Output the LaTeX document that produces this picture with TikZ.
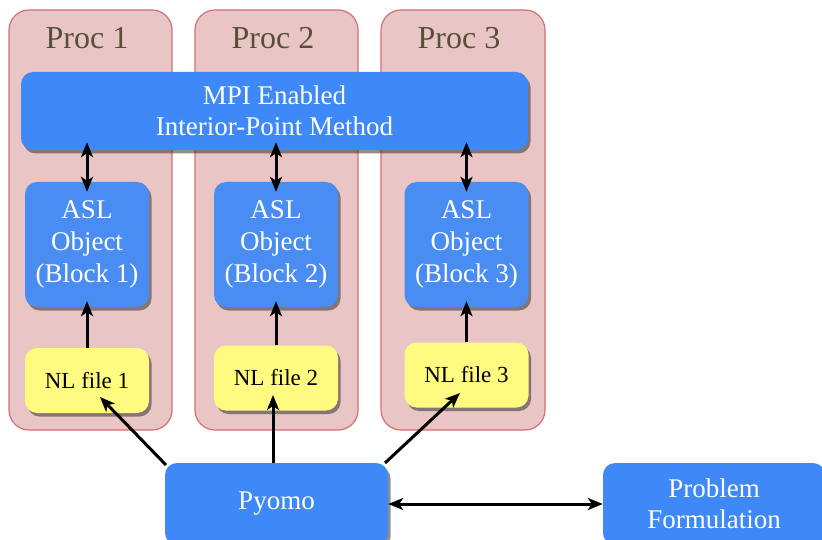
\documentclass[tikz,border=0pt]{standalone}
\usepackage{fontspec}
\setmainfont{Liberation Serif}
\usetikzlibrary{arrows.meta,shadows}
\definecolor{procpink}{RGB}{234,197,197}
\definecolor{procedge}{RGB}{208,112,112}
\definecolor{boxblue}{RGB}{62,137,247}
\definecolor{aslblue}{RGB}{74,141,242}
\definecolor{nlyellow}{RGB}{255,250,128}
\definecolor{proctext}{RGB}{84,80,58}
\begin{document}
\begin{tikzpicture}[
			x=1pt, y=-1pt,
			proc/.style={draw=procedge, line width=1.2pt, fill=procpink, rounded corners=20pt,
				minimum width=163pt, minimum height=420pt, inner sep=0pt},
			proclabel/.style={text=proctext, font=\fontsize{32}{36}\selectfont},
			shade box/.style={rounded corners=12pt, inner sep=0pt, align=center,
				drop shadow={shadow xshift=2.5pt, shadow yshift=-3.5pt, opacity=0.55, fill=black!80}},
			bluebox/.style={shade box, fill=boxblue, text=white, font=\fontsize{27}{31}\selectfont},
			aslbox/.style={bluebox, fill=aslblue, minimum width=124pt, minimum height=125pt,
				font=\fontsize{27}{32}\selectfont},
			nlbox/.style={shade box, fill=nlyellow, text=black, minimum width=124pt, minimum height=65pt,
				font=\fontsize{23}{27}\selectfont},
			tip/.tip={Stealth[length=15pt,width=12pt,inset=4pt]},
			link/.style={line width=3pt, -tip},
			both link/.style={line width=3pt, tip-tip},
			into/.style={shorten >=-#1},
			outof/.style={shorten <=-#1}
			]
			
			\useasboundingbox (0,0) rectangle (822,540);
			\clip (0,0) rectangle (822,540);
			
			\node[proc] (p1) at (90.5,220) {};
			\node[proc] (p2) at (276.5,220) {};
			\node[proc, minimum width=164pt] (p3) at (463,220) {};
			\node[proclabel] (p1lab) at (87,38) {Proc 1};
			\node[proclabel] (p2lab) at (273,38) {Proc 2};
			\node[proclabel] (p3lab) at (459,38) {Proc 3};
			
			\node[bluebox, minimum width=507pt, minimum height=78pt] (mpi) at (274.5,111) {MPI Enabled\\Interior-Point Method};
			
			\node[aslbox] (a1) at (87,244.5) {ASL\\Object\\(Block 1)};
			\node[aslbox] (a2) at (276,244.5) {ASL\\Object\\(Block 2)};
			\node[aslbox] (a3) at (466.5,244.5) {ASL\\Object\\(Block 3)};
			
			\node[nlbox] (n1) at (87,380.5) {NL file 1};
			\node[nlbox] (n2) at (276,378) {NL file 2};
			\node[nlbox] (n3) at (466.5,375) {NL file 3};
			
			\node[bluebox, minimum width=223pt, minimum height=82pt] (py) at (276.5,504) {Pyomo};
			\node[bluebox, minimum width=222pt, minimum height=82pt] (pf) at (714,504) {Problem\\Formulation};
			
			\coordinate (t1) at (100,397);
			\coordinate (t2) at (273,395);
			\coordinate (t3) at (460,393);
			\coordinate (s1) at (166,465);
			\coordinate (s3) at (385,463);
			
			\draw[both link, outof=8pt, into=10pt] (a1.north |- mpi.south) -- (a1.north);
			\draw[both link, outof=8pt, into=10pt] (a2.north |- mpi.south) -- (a2.north);
			\draw[both link, outof=8pt, into=10pt] (a3.north |- mpi.south) -- (a3.north);
			
			\draw[link, into=6pt] (n1.north) -- (a1.south);
			\draw[link, into=6pt] (n2.north) -- (a2.south);
			\draw[link, into=6pt] (n3.north) -- (a3.south);
			
			\draw[link] (s1) -- (t1);
			\draw[link] (t2 |- py.north) -- (t2);
			\draw[link] (s3) -- (t3);
			
			\draw[both link] (py.east) -- (pf.west);
		\end{tikzpicture}
\end{document}
